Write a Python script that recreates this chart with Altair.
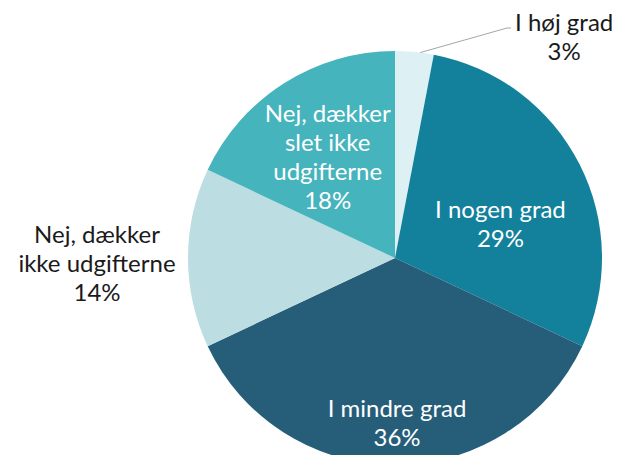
import altair as alt
import pandas as pd

categories = ["I høj grad", "I nogen grad", "I mindre grad",
              "Nej, dækker ikke udgifterne", "Nej, dækker slet ikke udgifterne"]
values = [3, 29, 36, 14, 18]
label_lines = ["I høj grad", "I nogen grad", "I mindre grad",
               "Nej, dækker\nikke udgifterne", "Nej, dækker\nslet ikke\nudgifterne"]
colors = ["#ddf0f3", "#13819b", "#265e79", "#bcdde1", "#45b4bc"]

df = pd.DataFrame({
    "cat": categories,
    "value": values,
    "order": list(range(len(values))),
    "label": [f"{l}\n{v}%" for l, v in zip(label_lines, values)],
})

CX, CY, R = 387, 250, 207
FONT = "Lato"
FS = 24
LH = 29

base = alt.Chart(df).encode(
    theta=alt.Theta("value:Q", stack=True),
    order=alt.Order("order:Q"),
    x=alt.value(CX),
    y=alt.value(CY),
)

pie = base.mark_arc(outerRadius=R).encode(
    color=alt.Color("cat:N", scale=alt.Scale(domain=categories, range=colors), legend=None)
)


def label_layer(i, radius, dx, dy, color):
    return base.mark_text(
        radius=radius, dx=dx, dy=dy, font=FONT, fontSize=FS, lineHeight=LH,
        lineBreak="\n", color=color, align="center", baseline="middle",
    ).encode(text=alt.condition(alt.datum.order == i, alt.Text("label:N"), alt.value("")))


labels = [
    label_layer(0, 225, 148, -10, "#1a1a1a"),
    label_layer(1, 106, 11, 1, "white"),
    label_layer(2, 166, 2, -14, "white"),
    label_layer(3, 298, 0, -22, "#1a1a1a"),
    label_layer(4, 120, -3, -42, "white"),
]

leader = alt.Chart(df).transform_filter(alt.datum.order == 0).transform_calculate(
    a="PI * datum.value / 100 * 1.3",
    x1=f"{CX} + {R} * sin(datum.a)",
    y1=f"{CY} - {R} * cos(datum.a)",
).mark_rule(color="#a6a6a6", strokeWidth=1).encode(
    x=alt.X("x1:Q", scale=None),
    y=alt.Y("y1:Q", scale=None),
    x2=alt.value(CX + 112),
    y2=alt.value(CY - 230),
)
leader2 = alt.Chart(df).transform_filter(alt.datum.order == 0).mark_rule(
    color="#a6a6a6", strokeWidth=1
).encode(
    x=alt.value(CX + 112), x2=alt.value(CX + 116),
    y=alt.value(CY - 230),
)

chart = alt.layer(pie, leader, leader2, *labels).properties(
    width=605, height=447, autosize="none", padding=0, background="white"
).configure_view(stroke=None)

chart.save("out.html", embed_options={"renderer": "svg", "actions": False})
